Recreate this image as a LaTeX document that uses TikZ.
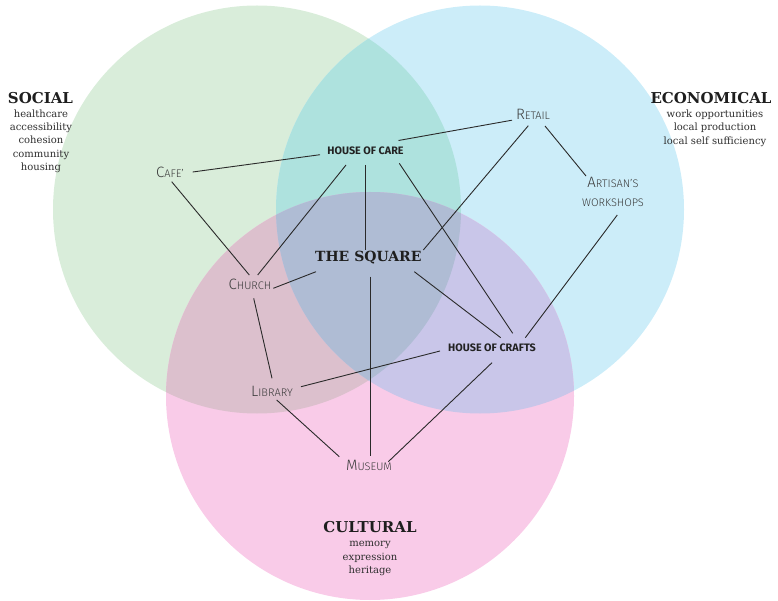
\documentclass[tikz,border=0pt]{standalone}
\usepackage{fontspec}
\setmainfont{DejaVu Serif}
\newfontfamily\labelsans{Fira Sans Light}
\newfontfamily\hubsans{Fira Sans}
\usetikzlibrary{calc}

% fills of the three spheres and of their overlaps
\definecolor{socialfill}{HTML}{D9EDDA}
\definecolor{econfill}{HTML}{CCEDF9}
\definecolor{culturefill}{HTML}{F9CBE8}
\definecolor{socecon}{HTML}{AEE2DE}
\definecolor{socculture}{HTML}{DCC0CD}
\definecolor{econculture}{HTML}{C9C6E9}
\definecolor{allthree}{HTML}{AFBCD4}
\definecolor{linecol}{HTML}{2A2A2A}
\definecolor{placecol}{HTML}{3C3C3C}
\definecolor{hubcol}{HTML}{222222}
\definecolor{titlecol}{HTML}{1E1E1E}
\definecolor{itemcol}{HTML}{2E2E2E}

% small capitals built from two sizes
\newcommand\mysc[2]{{\fontsize{15}{15}\selectfont #1}{\fontsize{11}{11}\selectfont #2}}

\begin{document}
\begin{tikzpicture}[x=1pt,y=-1pt,
  link/.style={draw=linecol, line width=0.9pt},
  place/.style={text=placecol, font=\labelsans\fontsize{11}{19.5}\selectfont, inner sep=0pt, align=center},
  hub/.style={text=hubcol, font=\hubsans\bfseries\fontsize{10.8}{12}\selectfont, inner sep=0pt},
  theme/.style={text=titlecol, font=\bfseries\fontsize{15}{16}\selectfont, inner sep=0pt},
  square/.style={text=titlecol, font=\bfseries\fontsize{14}{16}\selectfont, inner sep=0pt},
  facets/.style={text=itemcol, font=\fontsize{10}{13.45}\selectfont, align=center, inner sep=0pt},
]
\useasboundingbox (0,0) rectangle (778,601);

% the three spheres
\coordinate (cs) at (257,209.5);
\coordinate (ce) at (480,209.5);
\coordinate (cc) at (370,396);
\fill[socialfill] (cs) circle[radius=204];
\fill[econfill] (ce) circle[radius=204];
\fill[culturefill] (cc) circle[radius=204];
\begin{scope}
  \clip (cs) circle[radius=204];
  \fill[socecon] (ce) circle[radius=204];
  \fill[socculture] (cc) circle[radius=204];
\end{scope}
\begin{scope}
  \clip (ce) circle[radius=204];
  \fill[econculture] (cc) circle[radius=204];
\end{scope}
\begin{scope}
  \clip (cs) circle[radius=204];
  \clip (ce) circle[radius=204];
  \fill[allthree] (cc) circle[radius=204];
\end{scope}

% sphere titles and what they stand for
\node[theme] (social) at (40.5,98) {SOCIAL};
\node[facets] (socialitems) at (41,141.3) {healthcare\\accessibility\\cohesion\\community\\housing};
\node[theme] (econ) at (711,98) {ECONOMICAL};
\node[facets] (econitems) at (715,127.9) {work opportunities\\local production\\local self sufficiency};
\node[theme] (culture) at (370,527.5) {CULTURAL};
\node[facets] (cultureitems) at (370,558.8) {memory\\expression\\heritage};

% places
\node[square] (square) at (368.3,257.5) {THE SQUARE};
\node[hub] (care) at (365.5,151) {HOUSE OF CARE};
\node[hub] (crafts) at (492,347.5) {HOUSE OF CRAFTS};
\node[place] (cafe) at (170,172) {\mysc{C}{AFE’}};
\node[place] (church) at (250,284) {\mysc{C}{HURCH}};
\node[place] (library) at (272,391) {\mysc{L}{IBRARY}};
\node[place] (museum) at (369,465.5) {\mysc{M}{USEUM}};
\node[place] (retail) at (533,114.5) {\mysc{R}{ETAIL}};
\node[place] (artisan) at (613,192) {\mysc{A}{RTISAN’S}\\WORKSHOPS};

% links between places
\draw[link] ([shift={(22.7,0)}]cafe.center) -- ([shift={(-45.5,3.7)}]care.center);
\draw[link] ([shift={(33,-10.5)}]care.center) -- ([shift={(-21,5.7)}]retail.center);
\draw[link] ([shift={(1.7,9.7)}]cafe.center) -- ([shift={(-0.7,-9)}]church.center);
\draw[link] ([shift={(-19.5,14)}]care.center) -- ([shift={(7.7,-9)}]church.center);
\draw[link] ([shift={(0.2,14)}]care.center) -- ([shift={(-2.6,-7.5)}]square.center);
\draw[link] ([shift={(33.8,12.3)}]care.center) -- ([shift={(20.7,-14.2)}]crafts.center);
\draw[link] ([shift={(-4.7,11.2)}]retail.center) -- ([shift={(55,-7.5)}]square.center);
\draw[link] ([shift={(12,11.5)}]retail.center) -- ([shift={(-27,-16)}]artisan.center);
\draw[link] ([shift={(4.3,23)}]artisan.center) -- ([shift={(33.3,-9.8)}]crafts.center);
\draw[link] ([shift={(-52.3,14.2)}]square.center) -- ([shift={(23.3,4.3)}]church.center);
\draw[link] ([shift={(46,14.2)}]square.center) -- ([shift={(8.7,-9.8)}]crafts.center);
\draw[link] ([shift={(2,19.2)}]square.center) -- ([shift={(1.3,-9.5)}]museum.center);
\draw[link] ([shift={(3.7,14.3)}]church.center) -- ([shift={(0,-12.7)}]library.center);
\draw[link] ([shift={(-52,3.5)}]crafts.center) -- ([shift={(29,-4.3)}]library.center);
\draw[link] ([shift={(4.7,9)}]library.center) -- ([shift={(-29.7,-8.8)}]museum.center);
\draw[link] ([shift={(0,15.2)}]crafts.center) -- ([shift={(19.3,-3.8)}]museum.center);
\end{tikzpicture}
\end{document}
